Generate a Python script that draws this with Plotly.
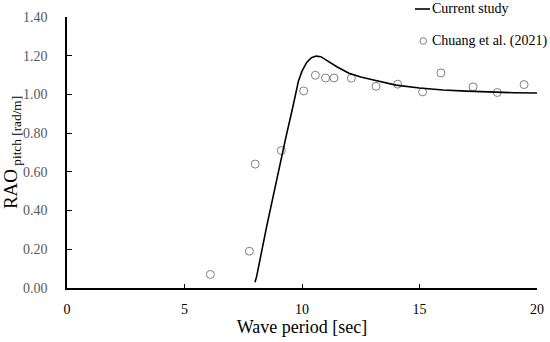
import plotly.graph_objects as go

# Current study (line)
line_period = [8.0, 8.07, 8.5, 9.0, 9.3, 9.6, 9.85, 10.0, 10.2, 10.4, 10.6, 10.8, 11.0, 11.5, 12.0, 12.5, 13.0, 14.0, 15.0, 16.0, 17.0, 18.0, 19.0, 20.0]
line_rao = [0.03, 0.06, 0.32, 0.61, 0.77, 0.93, 1.07, 1.12, 1.165, 1.19, 1.198, 1.195, 1.18, 1.142, 1.11, 1.09, 1.076, 1.048, 1.033, 1.023, 1.017, 1.012, 1.009, 1.007]

# Chuang et al. (2021) (markers)
exp_period = [6.1, 7.76, 8.01, 9.12, 10.07, 10.57, 11.0, 11.36, 12.1, 13.15, 14.07, 15.13, 15.91, 17.28, 18.31, 19.45]
exp_rao = [0.07, 0.19, 0.64, 0.71, 1.018, 1.099, 1.085, 1.085, 1.084, 1.042, 1.053, 1.013, 1.111, 1.039, 1.010, 1.051]

x_ticks = [0, 5, 10, 15, 20]
y_ticks = [0.0, 0.2, 0.4, 0.6, 0.8, 1.0, 1.2, 1.4]

font_family = "Liberation Serif"

L, T, PW, PH = 67, 17, 470, 271
W, H = 550, 342

def px(xp):
    return (xp - L) / PW

def py(yp):
    return (T + PH - yp) / PH

fig = go.Figure()
fig.add_trace(go.Scatter(
    x=exp_period, y=exp_rao, mode="markers",
    marker=dict(symbol="circle-open", size=8, color="#7f7f7f", line=dict(width=1)),
    name="Chuang et al. (2021)", showlegend=False, cliponaxis=False))
fig.add_trace(go.Scatter(
    x=line_period, y=line_rao, mode="lines",
    line=dict(color="black", width=1.6),
    name="Current study", showlegend=False))

# manual legend
fig.add_shape(type="line", xref="paper", yref="paper",
              x0=px(415), x1=px(430), y0=py(9), y1=py(9),
              line=dict(color="black", width=1.6))
fig.add_shape(type="circle", xref="paper", yref="paper",
              x0=px(420), x1=px(426.5), y0=py(44.3), y1=py(37.7),
              line=dict(color="#7f7f7f", width=1))
fig.add_annotation(text="Current study", xref="paper", yref="paper",
                   x=px(430), y=py(9), xanchor="left", yanchor="middle",
                   showarrow=False, font=dict(family=font_family, size=14, color="black"))
fig.add_annotation(text="Chuang et al. (2021)", xref="paper", yref="paper",
                   x=px(430), y=py(41), xanchor="left", yanchor="middle",
                   showarrow=False, font=dict(family=font_family, size=14, color="black"))

fig.update_layout(
    width=W, height=H,
    margin=dict(l=L, r=W - L - PW, t=T, b=H - T - PH),
    paper_bgcolor="white", plot_bgcolor="white",
    font=dict(family=font_family, color="black"),
    showlegend=False,
)
fig.update_xaxes(
    range=[0, 20], tickvals=x_ticks, ticktext=[str(v) for v in x_ticks],
    showgrid=False, zeroline=False, showline=True, linecolor="black", linewidth=1.5,
    ticks="inside", ticklen=4, tickcolor="black", tickwidth=1.2, automargin=False,
    ticklabelstandoff=7,
    tickfont=dict(family=font_family, size=14, color="black"),
    title=dict(text="Wave period [sec]", font=dict(family=font_family, size=18, color="black"), standoff=0),
)
fig.update_yaxes(
    range=[0, 1.4], tickvals=y_ticks, ticktext=[f"{v:.2f}" for v in y_ticks],
    showgrid=False, zeroline=False, showline=True, linecolor="black", linewidth=1.5,
    ticks="inside", ticklen=5, tickcolor="black", tickwidth=1.2, automargin=False,
    ticklabelstandoff=15,
    tickfont=dict(family=font_family, size=14, color="#595959"),
    title=dict(text="RAO<sub> pitch [rad/m]</sub>", font=dict(family=font_family, size=19, color="black"), standoff=2),
)

fig.write_html("out.html", config={"displayModeBar": False},
               post_script="document.body.style.margin='0';")
